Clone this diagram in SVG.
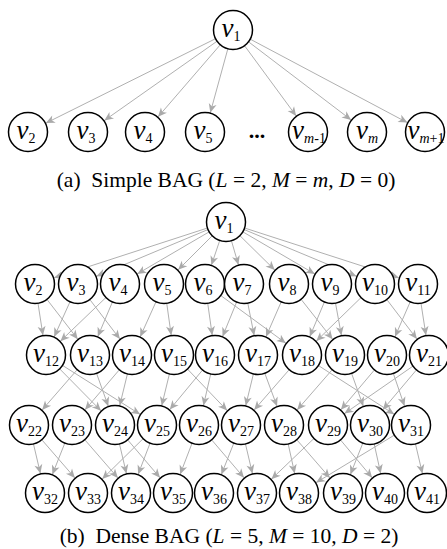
<svg xmlns="http://www.w3.org/2000/svg" width="447" height="549" viewBox="0 0 447 549">
<style>
.e{stroke:#b0b0b0;stroke-width:1;fill:none;marker-end:url(#ah)}
.n circle{fill:#fff;stroke:#000;stroke-width:1.5}
.n text{font-family:"Liberation Serif",serif;font-size:27px;font-style:italic;text-anchor:middle;fill:#000}
.s{font-size:14px;font-style:normal}
.si{font-size:14px;font-style:italic}
.cap{font-family:"Liberation Serif",serif;font-size:21.5px;fill:#000;text-anchor:middle}
.i{font-style:italic}
</style>
<defs>
<marker id="ah" markerUnits="userSpaceOnUse" markerWidth="10" markerHeight="8" viewBox="0 0 10 8" refX="29" refY="4" orient="auto" overflow="visible">
<path d="M0,0 L9,4 L0,8 L2.5,4 z" fill="#aaa"/>
</marker>
</defs>
<g id="connectors">
<line class="e" x1="233" y1="30" x2="28" y2="132"/>
<line class="e" x1="233" y1="30" x2="88" y2="132"/>
<line class="e" x1="233" y1="30" x2="145" y2="132"/>
<line class="e" x1="233" y1="30" x2="205" y2="132"/>
<line class="e" x1="233" y1="30" x2="308" y2="132"/>
<line class="e" x1="233" y1="30" x2="367" y2="132"/>
<line class="e" x1="233" y1="30" x2="425" y2="132"/>
<line class="e" x1="226" y1="222" x2="35" y2="284"/>
<line class="e" x1="226" y1="222" x2="78" y2="284"/>
<line class="e" x1="226" y1="222" x2="120" y2="284"/>
<line class="e" x1="226" y1="222" x2="164" y2="284"/>
<line class="e" x1="226" y1="222" x2="205" y2="284"/>
<line class="e" x1="226" y1="222" x2="244" y2="284"/>
<line class="e" x1="226" y1="222" x2="289" y2="284"/>
<line class="e" x1="226" y1="222" x2="332" y2="284"/>
<line class="e" x1="226" y1="222" x2="375" y2="284"/>
<line class="e" x1="226" y1="222" x2="418" y2="284"/>
<line class="e" x1="35" y1="284" x2="46" y2="355"/>
<line class="e" x1="35" y1="284" x2="90" y2="355"/>
<line class="e" x1="78" y1="284" x2="46" y2="355"/>
<line class="e" x1="78" y1="284" x2="132" y2="355"/>
<line class="e" x1="120" y1="284" x2="46" y2="355"/>
<line class="e" x1="120" y1="284" x2="90" y2="355"/>
<line class="e" x1="164" y1="284" x2="132" y2="355"/>
<line class="e" x1="164" y1="284" x2="174" y2="355"/>
<line class="e" x1="205" y1="284" x2="215" y2="355"/>
<line class="e" x1="205" y1="284" x2="302" y2="355"/>
<line class="e" x1="244" y1="284" x2="215" y2="355"/>
<line class="e" x1="244" y1="284" x2="258" y2="355"/>
<line class="e" x1="289" y1="284" x2="258" y2="355"/>
<line class="e" x1="289" y1="284" x2="345" y2="355"/>
<line class="e" x1="332" y1="284" x2="302" y2="355"/>
<line class="e" x1="332" y1="284" x2="345" y2="355"/>
<line class="e" x1="375" y1="284" x2="302" y2="355"/>
<line class="e" x1="375" y1="284" x2="429" y2="355"/>
<line class="e" x1="418" y1="284" x2="387" y2="355"/>
<line class="e" x1="418" y1="284" x2="429" y2="355"/>
<line class="e" x1="46" y1="355" x2="115" y2="425"/>
<line class="e" x1="46" y1="355" x2="157" y2="425"/>
<line class="e" x1="90" y1="355" x2="29" y2="425"/>
<line class="e" x1="90" y1="355" x2="115" y2="425"/>
<line class="e" x1="132" y1="355" x2="72" y2="425"/>
<line class="e" x1="132" y1="355" x2="115" y2="425"/>
<line class="e" x1="174" y1="355" x2="157" y2="425"/>
<line class="e" x1="174" y1="355" x2="241" y2="425"/>
<line class="e" x1="215" y1="355" x2="157" y2="425"/>
<line class="e" x1="215" y1="355" x2="199" y2="425"/>
<line class="e" x1="258" y1="355" x2="241" y2="425"/>
<line class="e" x1="258" y1="355" x2="284" y2="425"/>
<line class="e" x1="302" y1="355" x2="241" y2="425"/>
<line class="e" x1="302" y1="355" x2="411" y2="425"/>
<line class="e" x1="345" y1="355" x2="284" y2="425"/>
<line class="e" x1="345" y1="355" x2="370" y2="425"/>
<line class="e" x1="387" y1="355" x2="328" y2="425"/>
<line class="e" x1="387" y1="355" x2="411" y2="425"/>
<line class="e" x1="429" y1="355" x2="328" y2="425"/>
<line class="e" x1="429" y1="355" x2="370" y2="425"/>
<line class="e" x1="29" y1="425" x2="45" y2="493"/>
<line class="e" x1="29" y1="425" x2="88" y2="493"/>
<line class="e" x1="72" y1="425" x2="45" y2="493"/>
<line class="e" x1="72" y1="425" x2="131" y2="493"/>
<line class="e" x1="115" y1="425" x2="131" y2="493"/>
<line class="e" x1="115" y1="425" x2="173" y2="493"/>
<line class="e" x1="157" y1="425" x2="88" y2="493"/>
<line class="e" x1="157" y1="425" x2="131" y2="493"/>
<line class="e" x1="199" y1="425" x2="173" y2="493"/>
<line class="e" x1="199" y1="425" x2="257" y2="493"/>
<line class="e" x1="241" y1="425" x2="214" y2="493"/>
<line class="e" x1="241" y1="425" x2="257" y2="493"/>
<line class="e" x1="284" y1="425" x2="299" y2="493"/>
<line class="e" x1="284" y1="425" x2="343" y2="493"/>
<line class="e" x1="328" y1="425" x2="257" y2="493"/>
<line class="e" x1="328" y1="425" x2="385" y2="493"/>
<line class="e" x1="370" y1="425" x2="343" y2="493"/>
<line class="e" x1="370" y1="425" x2="385" y2="493"/>
<line class="e" x1="411" y1="425" x2="299" y2="493"/>
<line class="e" x1="411" y1="425" x2="427" y2="493"/>
</g>
<g id="a1" class="n"><circle cx="233" cy="30" r="19.5"/><text x="231" y="37">v<tspan class="s" dy="4">1</tspan></text></g>
<g id="a2" class="n"><circle cx="28" cy="132" r="19.5"/><text x="26" y="139">v<tspan class="s" dy="4">2</tspan></text></g>
<g id="a3" class="n"><circle cx="88" cy="132" r="19.5"/><text x="86" y="139">v<tspan class="s" dy="4">3</tspan></text></g>
<g id="a4" class="n"><circle cx="145" cy="132" r="19.5"/><text x="143" y="139">v<tspan class="s" dy="4">4</tspan></text></g>
<g id="a5" class="n"><circle cx="205" cy="132" r="19.5"/><text x="203" y="139">v<tspan class="s" dy="4">5</tspan></text></g>
<text id="dots" x="257" y="138" font-family="Liberation Serif,serif" font-size="22" font-weight="bold" text-anchor="middle">...</text>
<g id="am1" class="n"><circle cx="308" cy="132" r="19.5"/><text x="309" y="139">v<tspan class="si" dy="4">m</tspan><tspan class="s">-1</tspan></text></g>
<g id="am" class="n"><circle cx="367" cy="132" r="19.5"/><text x="367" y="139">v<tspan class="si" dy="4">m</tspan></text></g>
<g id="amp1" class="n"><circle cx="425" cy="132" r="19.5"/><text x="426" y="139">v<tspan class="si" dy="4">m</tspan><tspan class="s">+1</tspan></text></g>
<text class="cap" x="226" y="187" xml:space="preserve">(a)  Simple BAG (<tspan class="i">L</tspan> = 2, <tspan class="i">M</tspan> = <tspan class="i">m</tspan>, <tspan class="i">D</tspan> = 0)</text>
<g id="b1" class="n"><circle cx="226" cy="222" r="19.5"/><text x="224" y="229">v<tspan class="s" dy="4">1</tspan></text></g>
<g id="b2" class="n"><circle cx="35" cy="284" r="19.5"/><text x="33" y="291">v<tspan class="s" dy="4">2</tspan></text></g>
<g id="b3" class="n"><circle cx="78" cy="284" r="19.5"/><text x="76" y="291">v<tspan class="s" dy="4">3</tspan></text></g>
<g id="b4" class="n"><circle cx="120" cy="284" r="19.5"/><text x="118" y="291">v<tspan class="s" dy="4">4</tspan></text></g>
<g id="b5" class="n"><circle cx="164" cy="284" r="19.5"/><text x="162" y="291">v<tspan class="s" dy="4">5</tspan></text></g>
<g id="b6" class="n"><circle cx="205" cy="284" r="19.5"/><text x="203" y="291">v<tspan class="s" dy="4">6</tspan></text></g>
<g id="b7" class="n"><circle cx="244" cy="284" r="19.5"/><text x="242" y="291">v<tspan class="s" dy="4">7</tspan></text></g>
<g id="b8" class="n"><circle cx="289" cy="284" r="19.5"/><text x="287" y="291">v<tspan class="s" dy="4">8</tspan></text></g>
<g id="b9" class="n"><circle cx="332" cy="284" r="19.5"/><text x="330" y="291">v<tspan class="s" dy="4">9</tspan></text></g>
<g id="b10" class="n"><circle cx="375" cy="284" r="19.5"/><text x="375" y="291">v<tspan class="s" dy="4">10</tspan></text></g>
<g id="b11" class="n"><circle cx="418" cy="284" r="19.5"/><text x="418" y="291">v<tspan class="s" dy="4">11</tspan></text></g>
<g id="b12" class="n"><circle cx="46" cy="355" r="19.5"/><text x="46" y="362">v<tspan class="s" dy="4">12</tspan></text></g>
<g id="b13" class="n"><circle cx="90" cy="355" r="19.5"/><text x="90" y="362">v<tspan class="s" dy="4">13</tspan></text></g>
<g id="b14" class="n"><circle cx="132" cy="355" r="19.5"/><text x="132" y="362">v<tspan class="s" dy="4">14</tspan></text></g>
<g id="b15" class="n"><circle cx="174" cy="355" r="19.5"/><text x="174" y="362">v<tspan class="s" dy="4">15</tspan></text></g>
<g id="b16" class="n"><circle cx="215" cy="355" r="19.5"/><text x="215" y="362">v<tspan class="s" dy="4">16</tspan></text></g>
<g id="b17" class="n"><circle cx="258" cy="355" r="19.5"/><text x="258" y="362">v<tspan class="s" dy="4">17</tspan></text></g>
<g id="b18" class="n"><circle cx="302" cy="355" r="19.5"/><text x="302" y="362">v<tspan class="s" dy="4">18</tspan></text></g>
<g id="b19" class="n"><circle cx="345" cy="355" r="19.5"/><text x="345" y="362">v<tspan class="s" dy="4">19</tspan></text></g>
<g id="b20" class="n"><circle cx="387" cy="355" r="19.5"/><text x="387" y="362">v<tspan class="s" dy="4">20</tspan></text></g>
<g id="b21" class="n"><circle cx="429" cy="355" r="19.5"/><text x="429" y="362">v<tspan class="s" dy="4">21</tspan></text></g>
<g id="b22" class="n"><circle cx="29" cy="425" r="19.5"/><text x="29" y="432">v<tspan class="s" dy="4">22</tspan></text></g>
<g id="b23" class="n"><circle cx="72" cy="425" r="19.5"/><text x="72" y="432">v<tspan class="s" dy="4">23</tspan></text></g>
<g id="b24" class="n"><circle cx="115" cy="425" r="19.5"/><text x="115" y="432">v<tspan class="s" dy="4">24</tspan></text></g>
<g id="b25" class="n"><circle cx="157" cy="425" r="19.5"/><text x="157" y="432">v<tspan class="s" dy="4">25</tspan></text></g>
<g id="b26" class="n"><circle cx="199" cy="425" r="19.5"/><text x="199" y="432">v<tspan class="s" dy="4">26</tspan></text></g>
<g id="b27" class="n"><circle cx="241" cy="425" r="19.5"/><text x="241" y="432">v<tspan class="s" dy="4">27</tspan></text></g>
<g id="b28" class="n"><circle cx="284" cy="425" r="19.5"/><text x="284" y="432">v<tspan class="s" dy="4">28</tspan></text></g>
<g id="b29" class="n"><circle cx="328" cy="425" r="19.5"/><text x="328" y="432">v<tspan class="s" dy="4">29</tspan></text></g>
<g id="b30" class="n"><circle cx="370" cy="425" r="19.5"/><text x="370" y="432">v<tspan class="s" dy="4">30</tspan></text></g>
<g id="b31" class="n"><circle cx="411" cy="425" r="19.5"/><text x="411" y="432">v<tspan class="s" dy="4">31</tspan></text></g>
<g id="b32" class="n"><circle cx="45" cy="493" r="19.5"/><text x="45" y="500">v<tspan class="s" dy="4">32</tspan></text></g>
<g id="b33" class="n"><circle cx="88" cy="493" r="19.5"/><text x="88" y="500">v<tspan class="s" dy="4">33</tspan></text></g>
<g id="b34" class="n"><circle cx="131" cy="493" r="19.5"/><text x="131" y="500">v<tspan class="s" dy="4">34</tspan></text></g>
<g id="b35" class="n"><circle cx="173" cy="493" r="19.5"/><text x="173" y="500">v<tspan class="s" dy="4">35</tspan></text></g>
<g id="b36" class="n"><circle cx="214" cy="493" r="19.5"/><text x="214" y="500">v<tspan class="s" dy="4">36</tspan></text></g>
<g id="b37" class="n"><circle cx="257" cy="493" r="19.5"/><text x="257" y="500">v<tspan class="s" dy="4">37</tspan></text></g>
<g id="b38" class="n"><circle cx="299" cy="493" r="19.5"/><text x="299" y="500">v<tspan class="s" dy="4">38</tspan></text></g>
<g id="b39" class="n"><circle cx="343" cy="493" r="19.5"/><text x="343" y="500">v<tspan class="s" dy="4">39</tspan></text></g>
<g id="b40" class="n"><circle cx="385" cy="493" r="19.5"/><text x="385" y="500">v<tspan class="s" dy="4">40</tspan></text></g>
<g id="b41" class="n"><circle cx="427" cy="493" r="19.5"/><text x="427" y="500">v<tspan class="s" dy="4">41</tspan></text></g>
<text class="cap" x="229" y="543" xml:space="preserve">(b)  Dense BAG (<tspan class="i">L</tspan> = 5, <tspan class="i">M</tspan> = 10, <tspan class="i">D</tspan> = 2)</text>
</svg>
